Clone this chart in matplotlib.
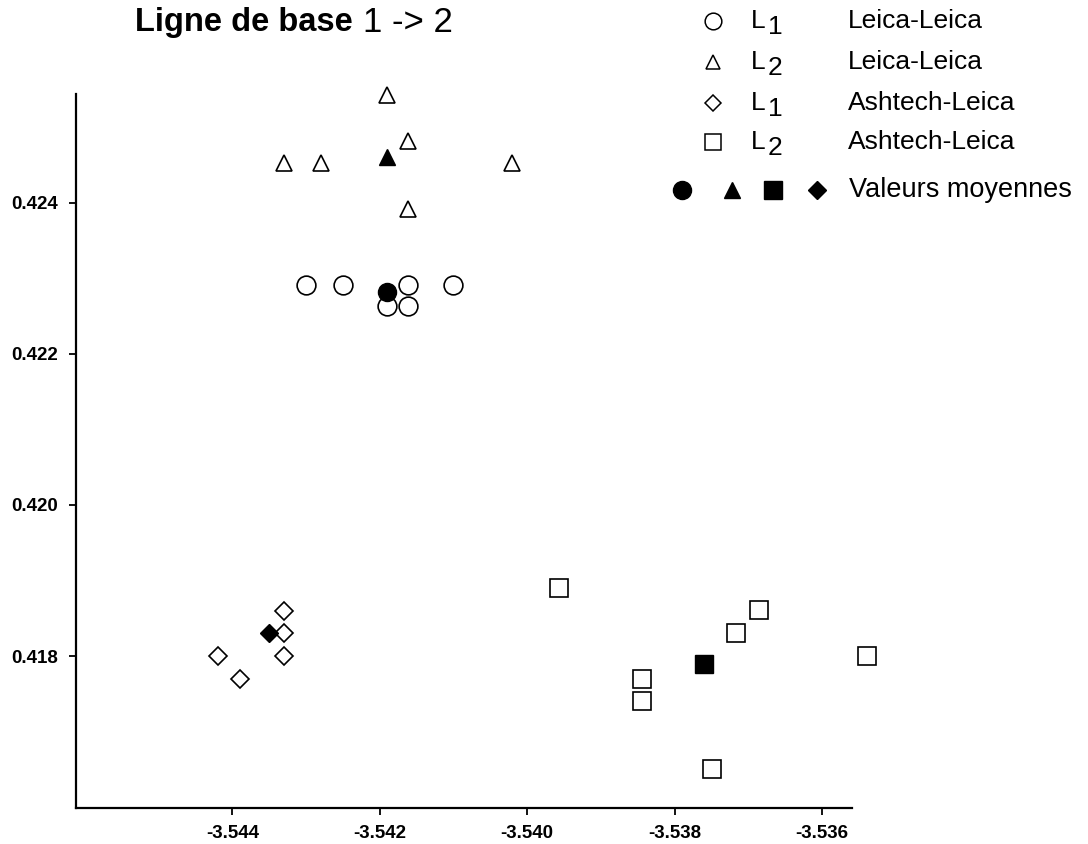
import numpy as np
import matplotlib.pyplot as plt
from matplotlib.lines import Line2D

plt.rcParams['font.family'] = ['Liberation Sans', 'DejaVu Sans']
plt.rcParams['axes.unicode_minus'] = False

#<---------------------Donnees--------------------------------------------->
l1_leica_x = [-3.5430, -3.5425, -3.54161, -3.5410, -3.5419, -3.54161]
l1_leica_y = [0.42291, 0.42291, 0.42291, 0.42291, 0.42263, 0.42263]
l2_leica_x = [-3.5419, -3.54161, -3.5433, -3.54279, -3.5402, -3.54161]
l2_leica_y = [0.42542, 0.42482, 0.42452, 0.42452, 0.42452, 0.42392]
l1_ash_x = [-3.5433, -3.5433, -3.5433, -3.5442, -3.5439]
l1_ash_y = [0.4186, 0.4183, 0.4180, 0.4180, 0.4177]
l2_ash_x = [-3.53957, -3.53685, -3.53717, -3.53539, -3.53844, -3.53844, -3.53749]
l2_ash_y = [0.4189, 0.41861, 0.41831, 0.4180, 0.41770, 0.41740, 0.4165]
# valeurs moyennes : cercle, triangle, carre, losange
mean_x = [-3.5419, -3.5419, -3.5376, -3.5435]
mean_y = [0.42282, 0.42461, 0.41790, 0.4183]
mean_markers = ["o", "^", "s", "D"]
mean_sizes = [13, 12, 13.5, 9.5]

xticks = [-3.544, -3.542, -3.540, -3.538, -3.536]
yticks = [0.418, 0.420, 0.422, 0.424]

W, H = 1088, 844
fig = plt.figure(figsize=(W/100, H/100), dpi=100)
ax = fig.add_axes([76/W, 1-808/H, (852-76)/W, (808-94)/H])

opts = dict(linestyle="none", mfc="white", mec="black", mew=1.2, clip_on=False, zorder=3)
ax.plot(l1_leica_x, l1_leica_y, marker="o", ms=13.5, **opts)
ax.plot(l2_leica_x, l2_leica_y, marker="^", ms=12, **opts)
ax.plot(l1_ash_x, l1_ash_y, marker="D", ms=9.5, **opts)
ax.plot(l2_ash_x, l2_ash_y, marker="s", ms=13.5, **opts)
for x, y, m, s in zip(mean_x, mean_y, mean_markers, mean_sizes):
    ax.plot([x], [y], marker=m, ms=s, color="black", linestyle="none", clip_on=False, zorder=4)

ax.set_xlim(-3.54612, -3.535592)
ax.set_ylim(0.41599, 0.425437)
ax.set_xticks(xticks)
ax.set_xticklabels(["%.3f" % v for v in xticks])
ax.set_yticks(yticks)
ax.set_yticklabels(["%.3f" % v for v in yticks])
for lab in ax.get_xticklabels() + ax.get_yticklabels():
    lab.set_fontweight("bold")
    lab.set_fontsize(13.5)
ax.tick_params(axis="x", direction="out", length=5, width=1.3, pad=7)
ax.tick_params(axis="y", direction="out", length=5, width=1.3, pad=8)
ax.spines["top"].set_visible(False)
ax.spines["right"].set_visible(False)
for s in ["left", "bottom"]:
    ax.spines[s].set_linewidth(1.6)

#<---------------------Titre-------------------------->
def fx(px): return px/W
def fy(py): return 1-py/H
fig.text(fx(135), fy(23), "Ligne de base", fontsize=23.5, fontweight="bold", va="center", ha="left")
fig.text(fx(363), fy(23), "1 -> 2", fontsize=25, va="center", ha="left")

#<---------------------Legende-------------------------->
rows = [("o", "1", "Leica-Leica", 21, 12), ("^", "2", "Leica-Leica", 62, 10),
        ("D", "1", "Ashtech-Leica", 103, 8.5), ("s", "2", "Ashtech-Leica", 142, 12)]
for m, sub, lab, py, s in rows:
    fig.add_artist(Line2D([fx(713)], [fy(py)], transform=fig.transFigure, marker=m, ms=s,
                          mfc="white", mec="black", mew=1.1, linestyle="none"))
    fig.text(fx(751), fy(py), "L", fontsize=19, va="center", ha="left")
    fig.text(fx(768), fy(py+6), sub, fontsize=19, va="center", ha="left")
    fig.text(fx(848), fy(py), lab, fontsize=19, va="center", ha="left")
for m, px, s in zip(["o", "^", "s", "D"], [682, 732, 773, 817], [13, 12, 13, 9.5]):
    fig.add_artist(Line2D([fx(px)], [fy(190)], transform=fig.transFigure, marker=m, ms=s,
                          color="black", linestyle="none"))
fig.text(fx(849), fy(190), "Valeurs moyennes", fontsize=19.5, va="center", ha="left")

plt.savefig("out.png", dpi=100)
